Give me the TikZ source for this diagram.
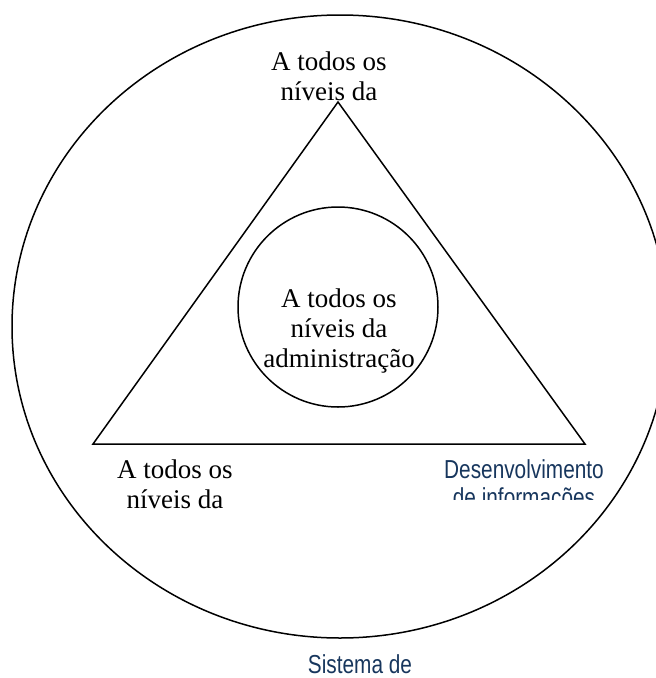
\documentclass[tikz,border=0pt]{standalone}
\usepackage{fontspec}
\setmainfont{Liberation Serif}
\newfontfamily\narrowsans[FakeStretch=0.8]{Liberation Sans}
\definecolor{azulescuro}{RGB}{23,54,93}
\begin{document}
\begin{tikzpicture}[x=1pt,y=-1pt,
    linha/.style={line width=1.5pt},
    rotulo/.style={font=\fontsize{27}{30}\selectfont, align=center, anchor=base, inner sep=0pt},
    rotuloazul/.style={font=\narrowsans\fontsize{26}{28}\selectfont, text=azulescuro, align=center, anchor=base, inner sep=0pt}]
    \useasboundingbox (0,0) rectangle (656,678);
    \clip (0,0) rectangle (656,678);

    % círculo externo
    \draw[linha] (340,326.5) ellipse [x radius=328, y radius=311.5];

    % triângulo
    \coordinate (topo) at (338,102);
    \coordinate (esq) at (93,444);
    \coordinate (dir) at (585,444);
    \draw[linha] (esq) -- (topo) -- (dir) -- cycle;

    % círculo interno
    \draw[linha] (338,307) circle [radius=100];

    % textos (base = linha de base da última linha)
    \node[rotulo] (centro) at (339,367) {A todos os\\níveis da\\administração};
    \node[rotulo] (cima) at (329,100) {A todos os\\níveis da};
    \node[rotulo] (baixoesq) at (175,508) {A todos os\\níveis da};
    \begin{scope}
        \clip (400,450) rectangle (656,499);
        \node[rotuloazul] (baixodir) at (524,506) {Desenvolvimento\\de informações};
    \end{scope}
    \node[rotuloazul] (sistema) at (360,673) {Sistema de};
\end{tikzpicture}
\end{document}
